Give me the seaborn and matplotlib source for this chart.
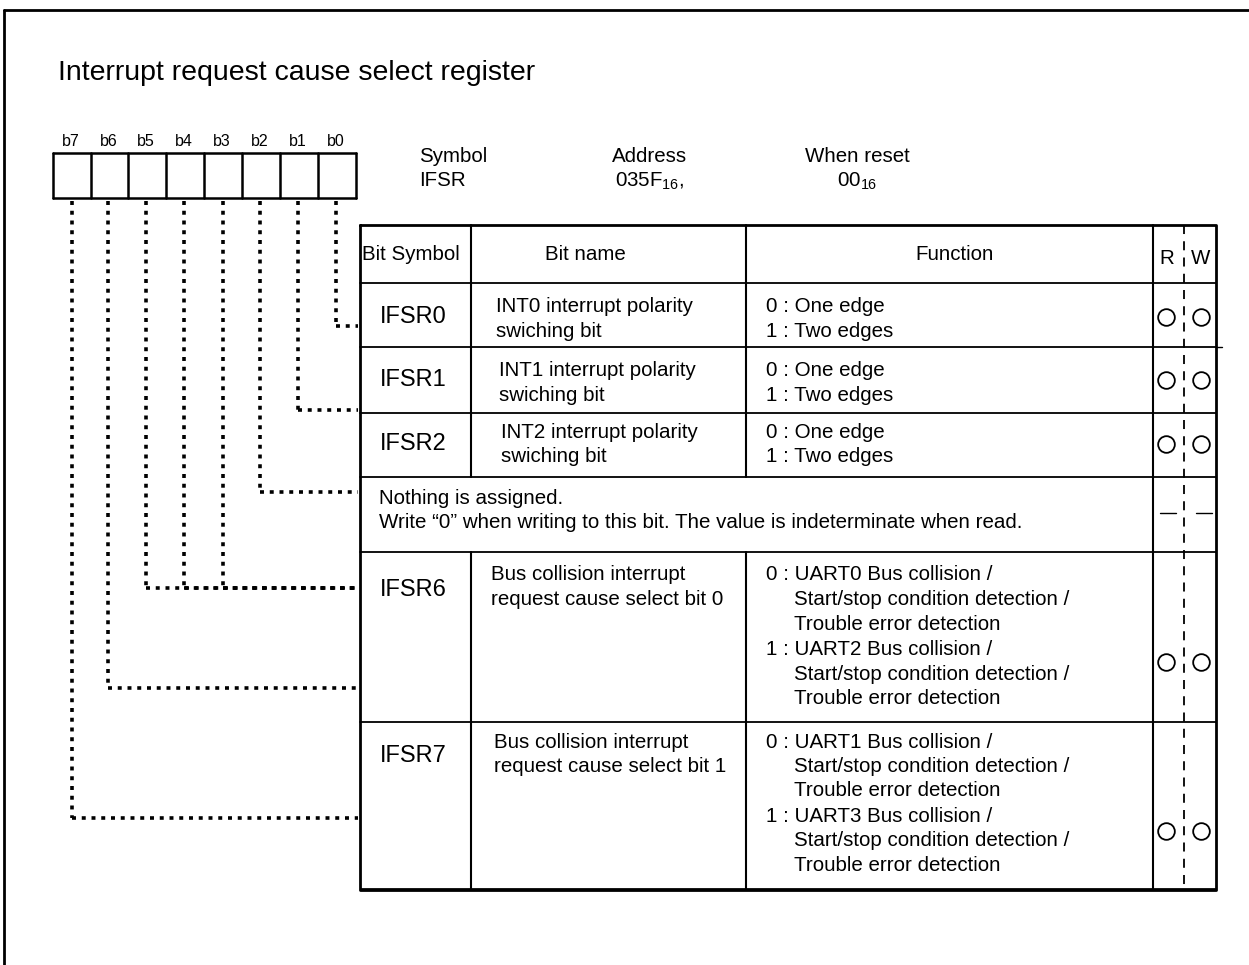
import matplotlib.pyplot as plt
import seaborn as sns

# ---- content -------------------------------------------------------------
title = "Interrupt request cause select register"
bit_labels = ["b7", "b6", "b5", "b4", "b3", "b2", "b1", "b0"]

reg_heads = ["Symbol", "Address", "When reset"]
reg_values = ["IFSR", "035F$_\\mathregular{16}$,", "00$_\\mathregular{16}$"]

col_heads = ["Bit Symbol", "Bit name", "Function", "R", "W"]
row_symbols = ["IFSR0", "IFSR1", "IFSR2", None, "IFSR6", "IFSR7"]
bit_names = [
    ["INT0 interrupt polarity", "swiching bit"],
    ["INT1 interrupt polarity", "swiching bit"],
    ["INT2 interrupt polarity", "swiching bit"],
    None,
    ["Bus collision interrupt", "request cause select bit 0"],
    ["Bus collision interrupt", "request cause select bit 1"],
]
functions = [
    ["0 : One edge", "1 : Two edges"],
    ["0 : One edge", "1 : Two edges"],
    ["0 : One edge", "1 : Two edges"],
    None,
    ["0 : UART0 Bus collision /", "Start/stop condition detection /",
     "Trouble error detection", "1 : UART2 Bus collision /",
     "Start/stop condition detection /", "Trouble error detection"],
    ["0 : UART1 Bus collision /", "Start/stop condition detection /",
     "Trouble error detection", "1 : UART3 Bus collision /",
     "Start/stop condition detection /", "Trouble error detection"],
]
reserved_text = ["Nothing is assigned.",
                 "Write \u201c0\u201d when writing to this bit. The value is indeterminate when read."]
rw_marks = ["o", "o", "o", "-", "o", "o"]

# ---- layout (pixels, origin top-left) ------------------------------------
W, H = 1249, 965
box_x = [53, 91, 128, 166, 204, 242, 280, 318, 356]
box_top, box_bot = 153, 198
bit_x = [72, 108, 146, 184, 223, 260, 298, 336]
conn_y = {"b0": 326, "b1": 410, "b2": 492, "b3": 588, "b4": 588, "b5": 588,
          "b6": 688, "b7": 818}

tab_l, tab_r = 360, 1216
col_x = [360, 471, 746, 1153, 1216]
rw_split = 1184
row_y = [225, 283, 347, 413, 477, 552, 722, 889]

line_gap = 24.5
name_x = [496, 499, 501, None, 491, 494]
func_x = 766
func_indent = 28
name_top = [307, 371, 432, None, 575, 742]
sym_y = [317, 380, 444, None, 590, 756]
rw_y = [317, 380, 444, 513, 662, 831]

sns.set_theme(style="white")
plt.rcParams["font.family"] = ["Liberation Sans", "DejaVu Sans"]
plt.rcParams["mathtext.fontset"] = "custom"
plt.rcParams["mathtext.rm"] = "Liberation Sans"

fig = plt.figure(figsize=(W / 100, H / 100), dpi=100)
ax = fig.add_axes([0, 0, 1, 1])
ax.set_xlim(0, W)
ax.set_ylim(H, 0)
ax.axis("off")

k = "black"
fs = 14.8

# outer frame (top and left only)
ax.plot([4, W], [10, 10], color=k, lw=2)
ax.plot([4, 4], [10, H], color=k, lw=2)

ax.text(58, 73, title, fontsize=20.5, va="center", ha="left", color=k)

# bit boxes
for i, lab in enumerate(bit_labels):
    cx = (box_x[i] + box_x[i + 1]) / 2
    ax.text(cx - 1, 142, lab, fontsize=11.5, ha="center", va="center", color=k)
for x in box_x:
    ax.plot([x, x], [box_top, box_bot], color=k, lw=1.8)
ax.plot([box_x[0], box_x[-1]], [box_top, box_top], color=k, lw=1.8)
ax.plot([box_x[0], box_x[-1]], [box_bot, box_bot], color=k, lw=1.8)

# register header
for j, (hd, val) in enumerate(zip(reg_heads, reg_values)):
    hx = [419, 650, 857][j]
    ha = "left" if j == 0 else "center"
    ax.text(hx, 157, hd, fontsize=fs, ha=ha, va="center", color=k)
    ax.text(hx, 181, val, fontsize=fs, ha=ha, va="center", color=k)

# dotted connectors
dot = (0, (1.1, 1.6))
for i, lab in enumerate(bit_labels):
    y = conn_y[lab]
    ax.plot([bit_x[i], bit_x[i]], [box_bot + 3, y], color=k, lw=2.6,
            linestyle=dot, dash_capstyle="butt")
    ax.plot([bit_x[i], tab_l - 2], [y, y], color=k, lw=2.6,
            linestyle=dot, dash_capstyle="butt")

# table outline
ax.plot([tab_l, tab_r, tab_r, tab_l, tab_l],
        [row_y[0], row_y[0], row_y[-1], row_y[-1], row_y[0]], color=k, lw=2)
ax.plot([tab_l, tab_r], [row_y[-1] + 1, row_y[-1] + 1], color=k, lw=2)
for y in row_y[1:-1]:
    ax.plot([tab_l, tab_r], [y, y], color=k, lw=1.3)
ax.plot([tab_r, tab_r + 6], [row_y[2], row_y[2]], color=k, lw=1)

# column separators (the reserved row spans the first three columns)
for x in col_x[1:3]:
    ax.plot([x, x], [row_y[0], row_y[4]], color=k, lw=1.5)
    ax.plot([x, x], [row_y[5], row_y[-1]], color=k, lw=1.5)
ax.plot([col_x[3], col_x[3]], [row_y[0], row_y[-1]], color=k, lw=1.5)
ax.plot([rw_split, rw_split], [row_y[0], row_y[-1]], color=k, lw=1.3,
        linestyle=(0, (5, 4)))

# header row
hy = (row_y[0] + row_y[1]) / 2
ax.text(col_x[0] + 2, hy, col_heads[0], fontsize=fs, ha="left", va="center", color=k)
ax.text(585, hy, col_heads[1], fontsize=fs, ha="center", va="center", color=k)
ax.text(955, hy, col_heads[2], fontsize=fs, ha="center", va="center", color=k)
ax.text(1167, hy + 4, col_heads[3], fontsize=fs, ha="center", va="center", color=k)
ax.text(1201, hy + 4, col_heads[4], fontsize=fs, ha="center", va="center", color=k)

# body rows
for r, sym in enumerate(row_symbols):
    if sym is None:
        for n, line in enumerate(reserved_text):
            ax.text(379, 499 + n * 24, line, fontsize=fs, ha="left", va="center", color=k)
    else:
        ax.text(380, sym_y[r], sym, fontsize=17, ha="left", va="center", color=k)
        for n, line in enumerate(bit_names[r]):
            ax.text(name_x[r], name_top[r] + n * line_gap, line, fontsize=fs,
                    ha="left", va="center", color=k)
        for n, line in enumerate(functions[r]):
            x = func_x if line[:3] in ("0 :", "1 :") else func_x + func_indent
            ax.text(x, name_top[r] + n * line_gap + (n // 3) * 1, line, fontsize=fs,
                    ha="left", va="center", color=k)
    if rw_marks[r] == "o":
        ax.plot([1166, 1201], [rw_y[r], rw_y[r]], linestyle="none", marker="o",
                markersize=12, markerfacecolor="white", markeredgecolor=k,
                markeredgewidth=1.3)
    else:
        for cx in (1168, 1204):
            ax.plot([cx - 8, cx + 8], [rw_y[r], rw_y[r]], color=k, lw=1)

fig.savefig("out.png", dpi=100, facecolor="white")
